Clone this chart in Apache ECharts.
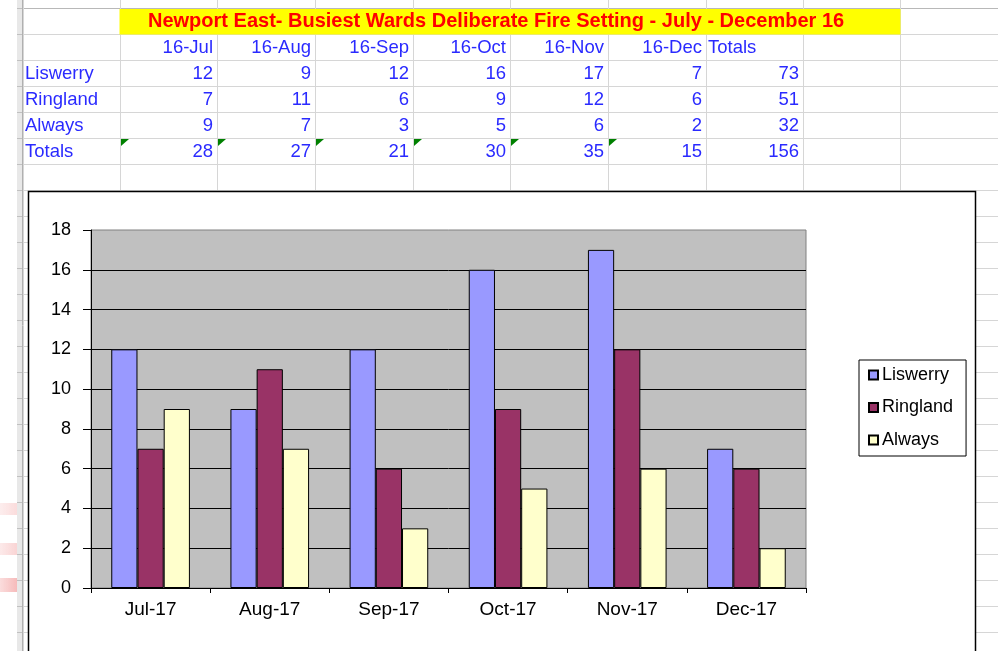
<!DOCTYPE html>
<html><head><meta charset="utf-8">
<script src="https://cdn.jsdelivr.net/npm/echarts@6/dist/echarts.min.js"></script>
<style>html,body{margin:0;padding:0;background:#fff}#c{width:998px;height:651px}</style>
</head><body><div id="c"></div>
<script>
// ---- data ----
const sheetTitle = 'Newport East- Busiest Wards Deliberate Fire Setting - July - December 16';
const tableMonths = ['16-Jul','16-Aug','16-Sep','16-Oct','16-Nov','16-Dec'];
const chartMonths = ['Jul-17','Aug-17','Sep-17','Oct-17','Nov-17','Dec-17'];
const wards = ['Liswerry','Ringland','Always'];
const liswerry = [12, 9, 12, 16, 17, 7];
const ringland = [7, 11, 6, 9, 12, 6];
const always = [9, 7, 3, 5, 6, 2];
const monthTotals = [28, 27, 21, 30, 35, 15];
const wardTotals = [73, 51, 32];
const grandTotal = 156;
const totalsLabel = 'Totals';

// ---- layout ----
const colX = [23, 120, 217, 315, 413, 510, 608, 706, 803, 900, 998];
const rowTop = 8, rowH = 26;
const FONT = '"Liberation Sans", Arial, sans-serif';
const BLUE = '#2a2aff';
const gridColor = '#d6d6d6';

const g = [];
// faint pink marks at far left
[[503, 12, 0.18], [543, 12, 0.22], [578, 14, 0.35]].forEach(([y, h, a]) => {
  g.push({type:'rect', z:-21, shape:{x:0, y:y, width:17, height:h}, style:{fill:{type:'linear', x:0, y:0, x2:1, y2:0, colorStops:[{offset:0, color:'rgba(230,60,60,'+(a*0.5)+')'}, {offset:1, color:'rgba(230,60,60,'+a+')'}]}}});
});
// spreadsheet grid lines
for (let k = 0; rowTop + k * rowH < 651; k++) {
  const y = rowTop + k * rowH + 0.5;
  g.push({type:'line', z:-20, shape:{x1:23, y1:y, x2:998, y2:y}, style:{stroke: k===0 ? '#b8b8b8' : gridColor, lineWidth:1}});
}
colX.forEach(x => {
  g.push({type:'line', z:-20, shape:{x1:x+0.5, y1:0, x2:x+0.5, y2:651}, style:{stroke:gridColor, lineWidth:1}});
});
// left header band
g.push({type:'rect', z:-19, shape:{x:17, y:0, width:5, height:651}, style:{fill:'#e8e8e8'}});
g.push({type:'line', z:-19, shape:{x1:22.5, y1:0, x2:22.5, y2:651}, style:{stroke:'#b0b0b0', lineWidth:1}});
for (let k = 0; rowTop + k * rowH < 651; k++) {
  const y = rowTop + k * rowH + 0.5;
  g.push({type:'line', z:-19, shape:{x1:17, y1:y, x2:22, y2:y}, style:{stroke:'#c0c0c0', lineWidth:1}});
}
// title band
g.push({type:'rect', z:-18, shape:{x:119.5, y:9, width:781, height:25.5}, style:{fill:'#ffff00'}});
g.push({type:'text', z:-17, x:148, y:21.5, style:{text:sheetTitle, font:'bold 20px '+FONT, fill:'#ff0000', textVerticalAlign:'middle'}});
function rowMid(r){ return rowTop + r*rowH + rowH/2 + 0.5; }
function cellText(txt, col, r, align){
  const x = align === 'left' ? colX[col] + 2 : colX[col+1] - 4;
  g.push({type:'text', z:-17, x:x, y:rowMid(r), style:{text:String(txt), font:'18.5px '+FONT, fill:BLUE, textAlign:align||'right', textVerticalAlign:'middle'}});
}
tableMonths.forEach((m,i) => cellText(m, i+1, 1));
cellText(totalsLabel, 7, 1, 'left');
const rows = [liswerry, ringland, always];
rows.forEach((vals, r) => {
  cellText(wards[r], 0, r+2, 'left');
  vals.forEach((v,i) => cellText(v, i+1, r+2));
  cellText(wardTotals[r], 7, r+2);
});
cellText(totalsLabel, 0, 5, 'left');
monthTotals.forEach((v,i) => {
  cellText(v, i+1, 5);
  const x = colX[i+1] + 1, y = rowTop + 5*rowH + 1;
  g.push({type:'polygon', z:-17, shape:{points:[[x,y],[x+8,y],[x,y+7]]}, style:{fill:'#008000'}});
});
cellText(grandTotal, 7, 5);
// chart frame
g.push({type:'rect', z:-10, shape:{x:28.5, y:191.5, width:947, height:480}, style:{fill:'#ffffff', stroke:'#000', lineWidth:1.5}});

const chart = echarts.init(document.getElementById('c'));
const barStyle = c => ({color:c, borderColor:'#000', borderWidth:1});
chart.setOption({
  animation:false,
  graphic: g,
  grid:{left:91, top:230, width:715, height:358, show:true, backgroundColor:'#c0c0c0', borderColor:'#808080', borderWidth:1},
  legend:{
    orient:'vertical', left:859, top:360, icon:'rect', itemWidth:9, itemHeight:9, itemGap:14.5,
    padding:[6,13,7,9], backgroundColor:'#fff', borderColor:'#000', borderWidth:1, borderRadius:0,
    textStyle:{fontFamily:FONT, fontSize:18, color:'#000', padding:[0,0,0,-1]},
    data: wards
  },
  xAxis:{
    type:'category', data: chartMonths, boundaryGap:true,
    axisLine:{lineStyle:{color:'#000', width:1}},
    axisTick:{show:true, length:5, interval:0, lineStyle:{color:'#000'}},
    axisLabel:{fontFamily:FONT, fontSize:19, color:'#000', margin:12, interval:0}
  },
  yAxis:{
    type:'value', min:0, max:18, interval:2,
    axisLine:{show:true, lineStyle:{color:'#000', width:1}},
    axisTick:{show:true, length:8, lineStyle:{color:'#000'}},
    axisLabel:{fontFamily:FONT, fontSize:18, color:'#000', margin:20},
    splitLine:{show:true, showMaxLine:false, lineStyle:{color:'#000', width:1}}
  },
  series:[
    {name:wards[0], type:'bar', data:liswerry, barGap:'0%', barCategoryGap:'34%', itemStyle:barStyle('#9999ff')},
    {name:wards[1], type:'bar', data:ringland, barGap:'0%', barCategoryGap:'34%', itemStyle:barStyle('#993366')},
    {name:wards[2], type:'bar', data:always, barGap:'0%', barCategoryGap:'34%', itemStyle:barStyle('#ffffcc')}
  ]
});
</script></body></html>
